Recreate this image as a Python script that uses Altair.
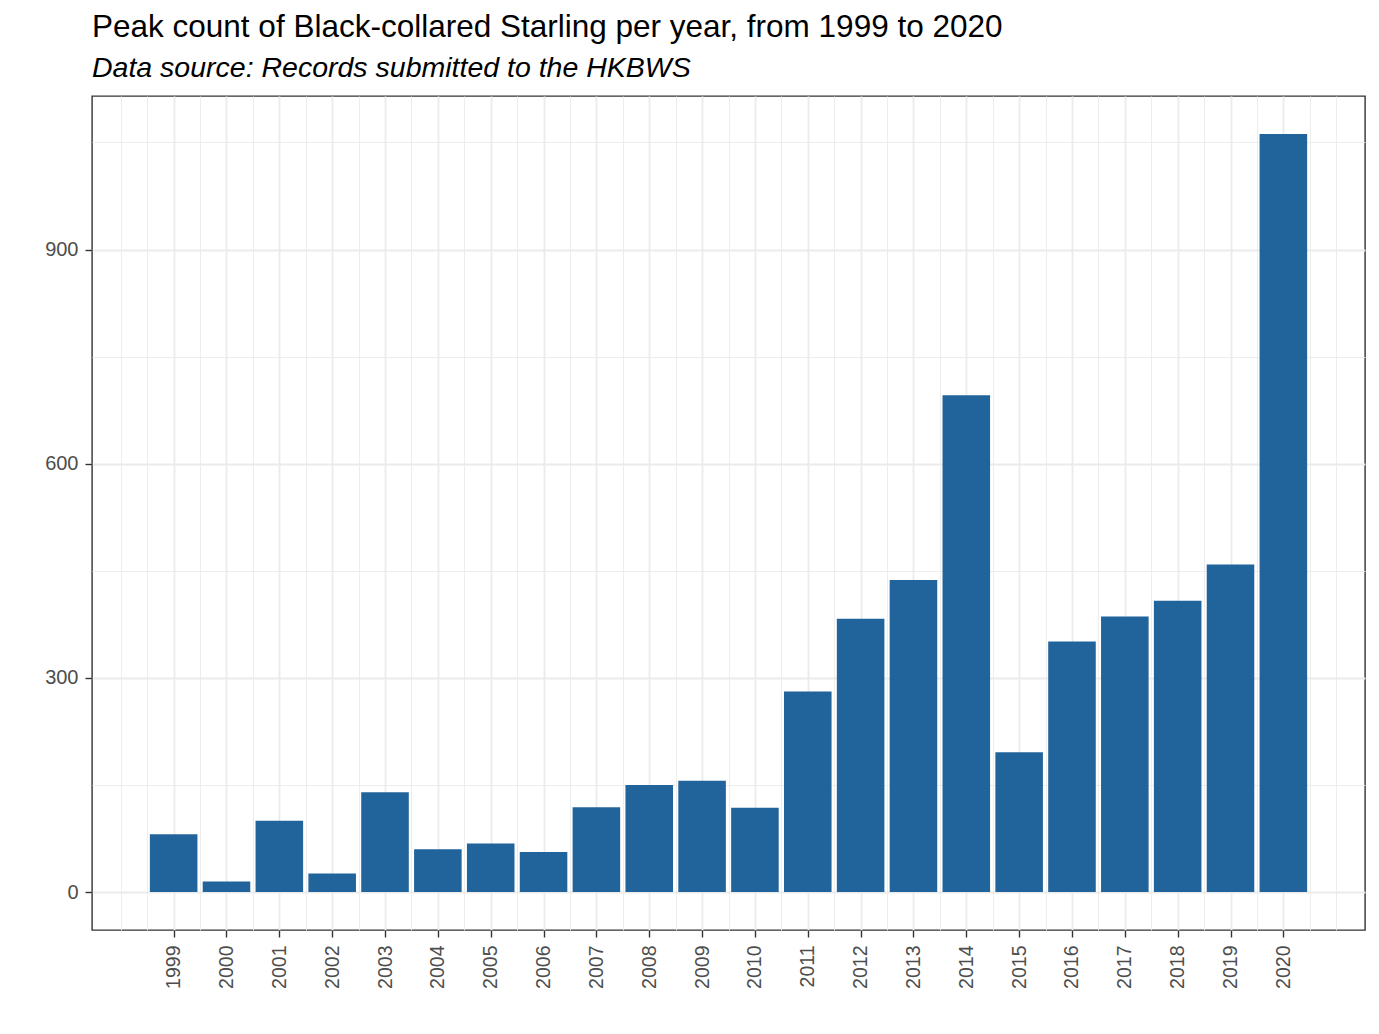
import altair as alt
import pandas as pd

years = list(range(1999, 2021))
peak_counts = [81, 15, 100, 26, 140, 60, 68, 56, 119, 150, 156, 118,
               281, 383, 437, 696, 196, 351, 386, 408, 459, 1062]

title_text = "Peak count of Black-collared Starling per year, from 1999 to 2020"
subtitle_text = "Data source: Records submitted to the HKBWS"

x_grid_values = [1998 + 0.5 * i for i in range(47)]
y_grid_values = [150 * i for i in range(8)]

df = pd.DataFrame({"year": years, "count": peak_counts})

FONT = "Liberation Sans"
major_x = "datum.value % 1 === 0 && datum.value >= 1999 && datum.value <= 2020"
major_y = "datum.value % 300 === 0"

x_axis = alt.Axis(
    values=x_grid_values,
    labelExpr=f"({major_x}) ? datum.value : ''",
    labelAngle=-90,
    labelAlign="right",
    labelBaseline="middle",
    labelFont=FONT,
    labelFontSize=19.5,
    labelColor="#4d4d4d",
    labelOverlap=False,
    labelPadding=8,
    tickSize=7,
    tickColor="#333333",
    tickWidth=1.4,
    tickOpacity={"condition": {"test": major_x, "value": 1}, "value": 0},
    grid=True,
    gridColor="#ebebeb",
    gridWidth={"condition": {"test": major_x, "value": 1.8}, "value": 0.9},
    domain=False,
    title=None,
)

y_axis = alt.Axis(
    values=y_grid_values,
    labelExpr=f"({major_y}) ? datum.value : ''",
    labelFont=FONT,
    labelFontSize=20,
    labelColor="#4d4d4d",
    labelOverlap=False,
    labelPadding=7,
    tickSize=7,
    tickColor="#333333",
    tickWidth=1.4,
    tickOpacity={"condition": {"test": major_y, "value": 1}, "value": 0},
    grid=True,
    gridColor="#ebebeb",
    gridWidth={"condition": {"test": major_y, "value": 1.8}, "value": 0.9},
    domain=False,
    title=None,
)

chart = (
    alt.Chart(df)
    .transform_calculate(x0="datum.year - 0.45", x1="datum.year + 0.45")
    .mark_bar(color="#21639b")
    .encode(
        x=alt.X("x0:Q", scale=alt.Scale(domain=[1997.455, 2021.545], nice=False, zero=False), axis=x_axis),
        x2="x1:Q",
        y=alt.Y("count:Q", scale=alt.Scale(domain=[-53.1, 1115.1], nice=False, zero=False), axis=y_axis),
        y2=alt.datum(0),
    )
    .properties(
        width=1273,
        height=834,
        autosize=alt.AutoSizeParams(type="none"),
        padding={"left": 84, "top": 88, "right": 6, "bottom": 96},
        title=alt.TitleParams(
            text=title_text,
            subtitle=subtitle_text,
            anchor="start",
            frame="group",
            font=FONT,
            fontSize=31.5,
            fontWeight="normal",
            color="#000000",
            subtitleFont=FONT,
            subtitleFontSize=28.5,
            subtitleFontStyle="italic",
            subtitleColor="#000000",
            subtitlePadding=10,
            offset=14,
        ),
    )
    .configure(background="white")
    .configure_view(stroke="#333333", strokeWidth=1.4)
)

chart.save("out.html", embed_options={"renderer": "svg", "actions": False})
